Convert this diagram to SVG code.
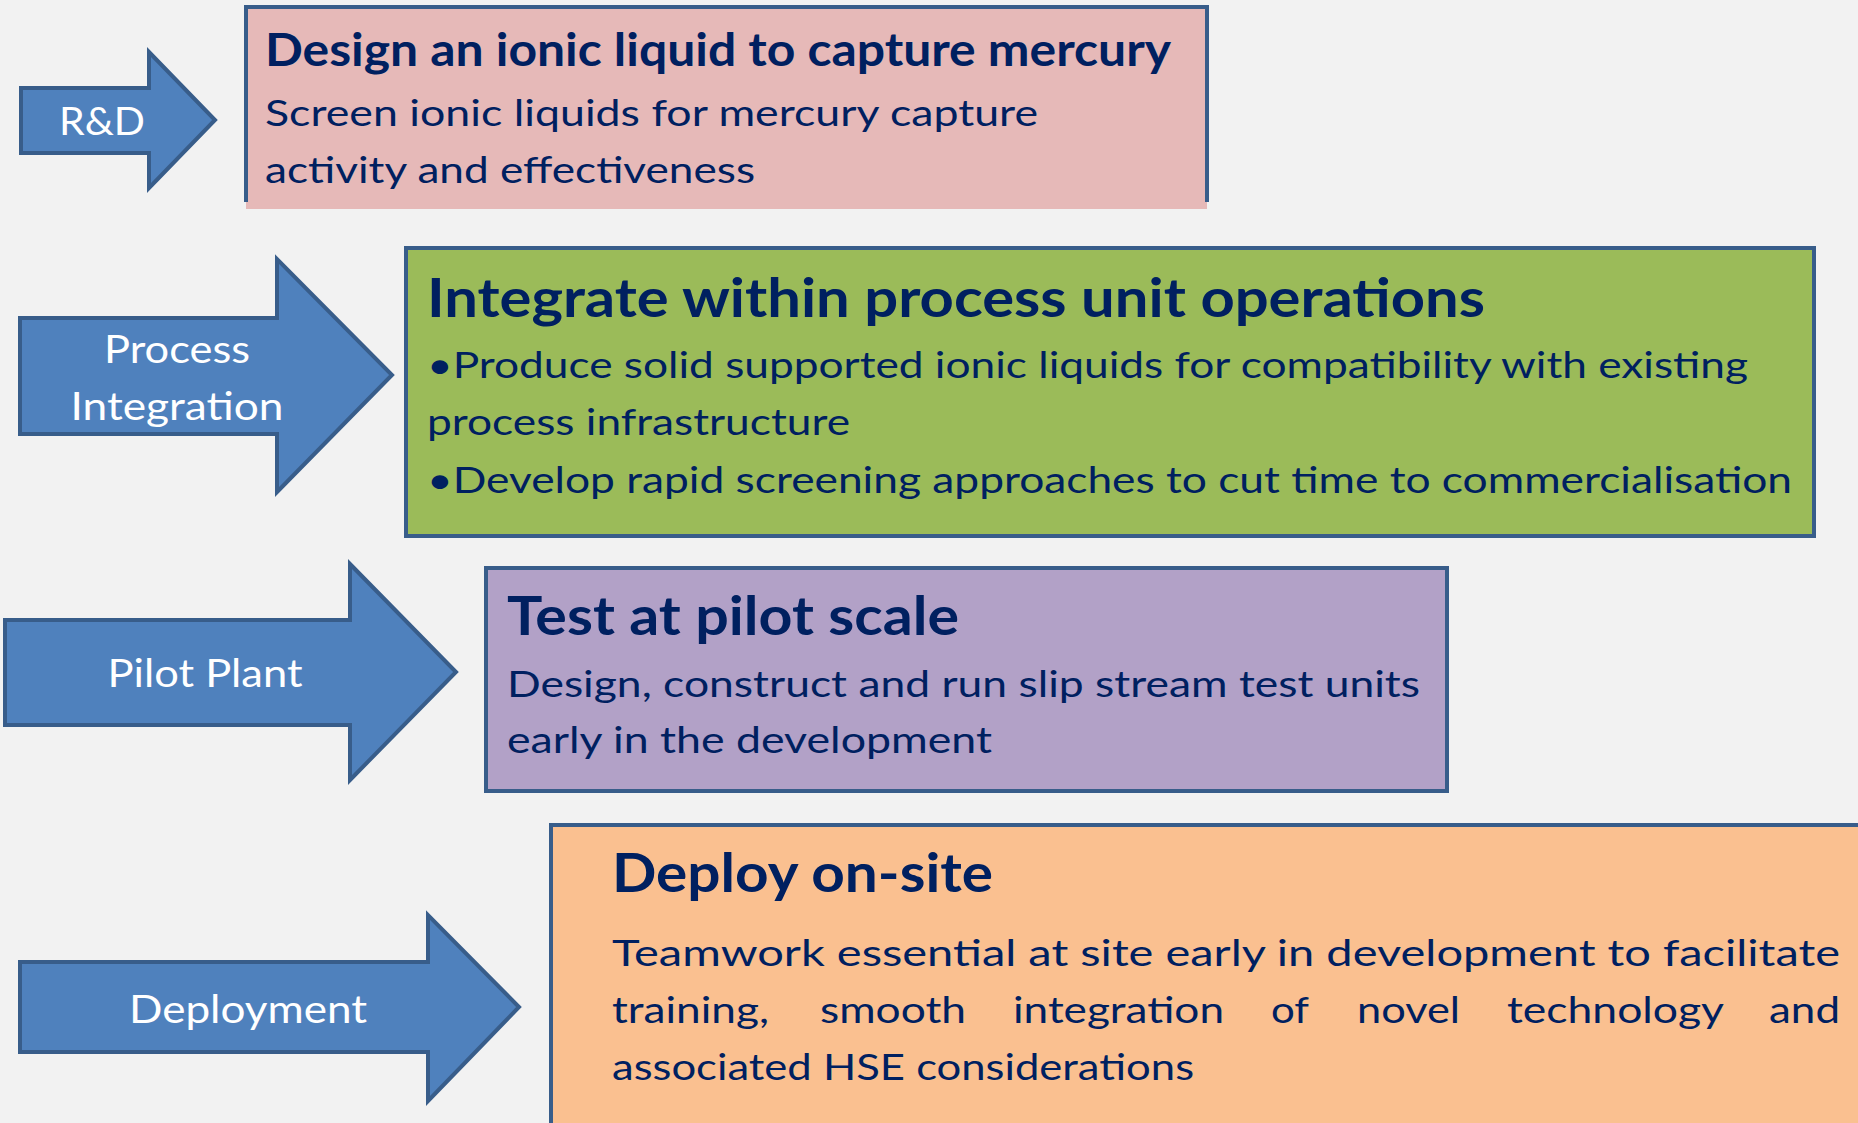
<svg xmlns="http://www.w3.org/2000/svg" width="1858" height="1123" viewBox="0 0 1858 1123">
<style>
.arrow{fill:#4F81BD;stroke:#385D8A;stroke-width:4;stroke-linejoin:miter}
.box{stroke:#385D8A;stroke-width:4}
.lbl{font-family:Lato,"Liberation Sans",sans-serif;font-size:38px;fill:#FFFFFF;text-anchor:middle}
.ttl{font-family:Lato,"Liberation Sans",sans-serif;font-weight:700;fill:#002060}
.bd{font-family:Lato,"Liberation Sans",sans-serif;font-size:36px;fill:#002060}
</style>
<rect x="0" y="0" width="1858" height="1123" fill="#F2F2F2"/>
<g id="connectors"></g>

<g id="arrow-rd">
<path class="arrow" d="M21 88 L149 88 L149 52 L215 120 L149 188 L149 153 L21 153 Z"/>
<text class="lbl" x="102" y="135" textLength="86" lengthAdjust="spacingAndGlyphs">R&amp;D</text>
</g>
<g id="box-rd">
<rect x="246" y="7" width="961" height="202" fill="#E6B9B8"/>
<path d="M246 202 L246 7 L1207 7 L1207 202" fill="none" stroke="#385D8A" stroke-width="4"/>
<text class="ttl" x="265" y="66" font-size="45" textLength="906" lengthAdjust="spacingAndGlyphs">Design an ionic liquid to capture mercury</text>
<text class="bd" x="265" y="126" textLength="773" lengthAdjust="spacingAndGlyphs">Screen ionic liquids for mercury capture</text>
<text class="bd" x="265" y="183" textLength="490" lengthAdjust="spacingAndGlyphs">activity and effectiveness</text>
</g>

<g id="arrow-pi">
<path class="arrow" d="M20 318 L277 318 L277 259 L392 375 L277 492 L277 434 L20 434 Z"/>
<text class="lbl" x="177" y="363" textLength="146" lengthAdjust="spacingAndGlyphs">Process</text>
<text class="lbl" x="177" y="420" textLength="213" lengthAdjust="spacingAndGlyphs">Integration</text>
</g>
<g id="box-pi">
<rect class="box" x="406" y="248" width="1408" height="288" fill="#9BBB59"/>
<text class="ttl" x="427" y="317" font-size="53" textLength="1058" lengthAdjust="spacingAndGlyphs">Integrate within process unit operations</text>
<text class="bd" x="427" y="378" textLength="1321" lengthAdjust="spacingAndGlyphs">•Produce solid supported ionic liquids for compatibility with existing</text>
<text class="bd" x="427" y="435" textLength="423" lengthAdjust="spacingAndGlyphs">process infrastructure</text>
<text class="bd" x="427" y="493" textLength="1365" lengthAdjust="spacingAndGlyphs">•Develop rapid screening approaches to cut time to commercialisation</text>
</g>

<g id="arrow-pp">
<path class="arrow" d="M5 620 L350 620 L350 564 L456 672 L350 780 L350 725 L5 725 Z"/>
<text class="lbl" x="205" y="687" textLength="195" lengthAdjust="spacingAndGlyphs">Pilot Plant</text>
</g>
<g id="box-pp">
<rect class="box" x="486" y="568" width="961" height="223" fill="#B2A1C7"/>
<text class="ttl" x="507" y="635" font-size="53" textLength="452" lengthAdjust="spacingAndGlyphs">Test at pilot scale</text>
<text class="bd" x="507" y="697" textLength="913" lengthAdjust="spacingAndGlyphs">Design, construct and run slip stream test units</text>
<text class="bd" x="507" y="753" textLength="485" lengthAdjust="spacingAndGlyphs">early in the development</text>
</g>

<g id="arrow-dp">
<path class="arrow" d="M20 962 L428 962 L428 915 L519 1007 L428 1101 L428 1052 L20 1052 Z"/>
<text class="lbl" x="248" y="1023" textLength="238" lengthAdjust="spacingAndGlyphs">Deployment</text>
</g>
<g id="box-dp">
<rect class="box" x="551" y="825" width="1330" height="320" fill="#FAC090"/>
<text class="ttl" x="612" y="892" font-size="53" textLength="381" lengthAdjust="spacingAndGlyphs">Deploy on-site</text>
<text class="bd" x="612" y="966" textLength="1228" lengthAdjust="spacingAndGlyphs">Teamwork essential at site early in development to facilitate</text>
<text class="bd" x="612" y="1023" textLength="157" lengthAdjust="spacingAndGlyphs">training,</text>
<text class="bd" x="820" y="1023" textLength="146" lengthAdjust="spacingAndGlyphs">smooth</text>
<text class="bd" x="1013" y="1023" textLength="211" lengthAdjust="spacingAndGlyphs">integration</text>
<text class="bd" x="1271" y="1023" textLength="38" lengthAdjust="spacingAndGlyphs">of</text>
<text class="bd" x="1357" y="1023" textLength="103" lengthAdjust="spacingAndGlyphs">novel</text>
<text class="bd" x="1507" y="1023" textLength="217" lengthAdjust="spacingAndGlyphs">technology</text>
<text class="bd" x="1769" y="1023" textLength="71" lengthAdjust="spacingAndGlyphs">and</text>
<text class="bd" x="612" y="1080" textLength="582" lengthAdjust="spacingAndGlyphs">associated HSE considerations</text>
</g>
</svg>
